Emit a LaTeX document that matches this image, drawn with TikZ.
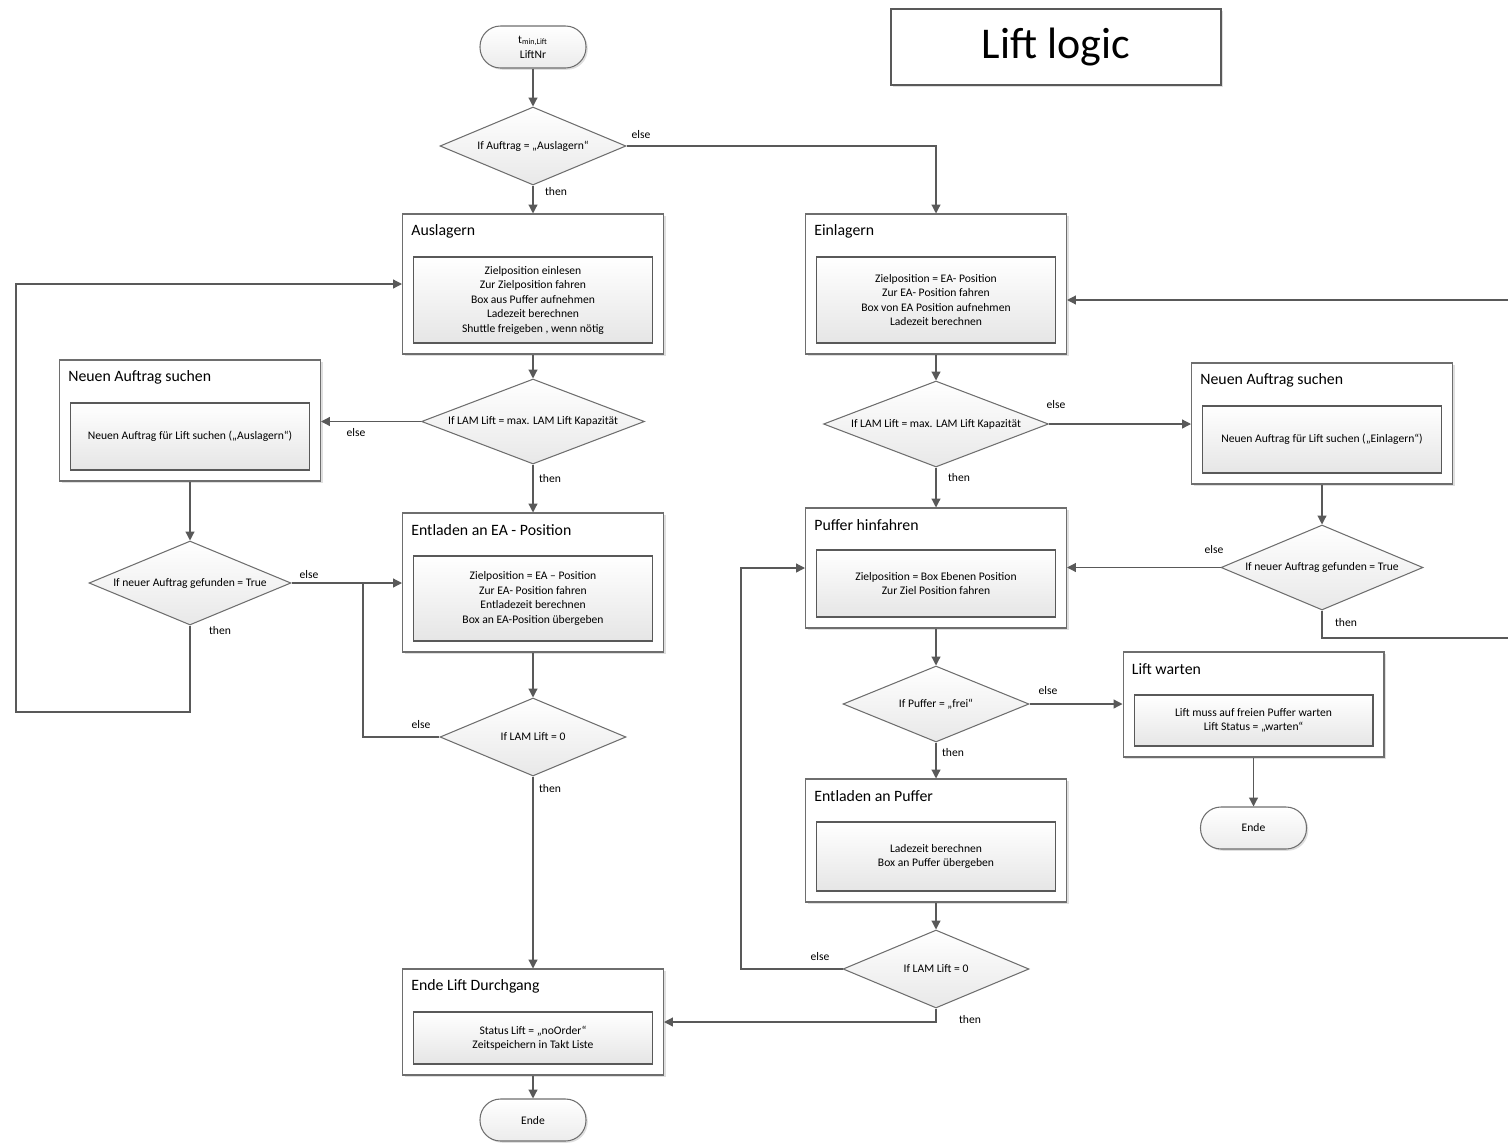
\documentclass[tikz,border=0pt]{standalone}
\usepackage{fontspec}
\setmainfont{Carlito}
\usetikzlibrary{positioning,arrows.meta,shapes.geometric,shadows,calc}

\definecolor{linegray}{RGB}{89,89,89}
\definecolor{boxgray}{RGB}{110,110,110}

\tikzset{
  outerbox/.style={rectangle,draw=boxgray,fill=white,line width=0.6pt,inner sep=0pt,
    drop shadow={shadow xshift=1.2pt,shadow yshift=-1.2pt,opacity=.25}},
  innerbox/.style={rectangle,draw=linegray,top color=white,bottom color=gray!20,
    line width=0.6pt,inner sep=0pt,align=center,minimum width=4.78cm,
    font=\fontsize{6.6}{8.25}\selectfont},
  boxtitle/.style={anchor=west,inner sep=0pt,font=\fontsize{9}{10}\selectfont},
  decision/.style={diamond,aspect=2.4,draw=boxgray,top color=white,bottom color=gray!18,
    line width=0.6pt,inner sep=0pt,font=\fontsize{6.6}{8}\selectfont},
  terminal/.style={rectangle,rounded corners=0.41cm,draw=boxgray,top color=white,
    bottom color=gray!15,line width=0.6pt,minimum width=2.12cm,minimum height=0.84cm,
    align=center,font=\fontsize{6.6}{8}\selectfont,
    drop shadow={shadow xshift=1pt,shadow yshift=-1pt,opacity=.25}},
  lbl/.style={inner sep=0pt,font=\fontsize{6.6}{8}\selectfont},
  flow/.style={draw=linegray,line width=0.7pt,-{Triangle[length=5pt,width=5pt]}},
  plain/.style={draw=linegray,line width=0.7pt}
}

\begin{document}
\begin{tikzpicture}[x=0.02cm,y=-0.02cm]
\useasboundingbox (0,0) rectangle (1508,1143);

% title
\node[draw=linegray,line width=1.3pt,fill=white,minimum width=6.6cm,minimum height=1.52cm,
  font=\fontsize{25}{28}\selectfont,
  drop shadow={shadow xshift=1.2pt,shadow yshift=-1.2pt,opacity=.25}] (title) at (1056,47) {Lift logic};

\node[terminal] (start) at (533,47) {t\textsubscript{min,Lift}\\[0.5pt]LiftNr};
\node[decision,minimum width=3.72cm,minimum height=1.56cm] (d1) at (533,146) {If Auftrag = „Auslagern“};

%%% Auslagern (left column)
\node[outerbox,minimum width=5.22cm,minimum height=2.8cm] (aus) at (533,284) {};
\node[boxtitle] (ausT) at ([xshift=0.18cm,yshift=-0.35cm]aus.north west) {Auslagern};
\node[innerbox,minimum height=1.72cm] (ausI) at (533,300)
  {Zielposition einlesen\\Zur Zielposition fahren\\Box aus Puffer aufnehmen\\Ladezeit berechnen\\Shuttle freigeben , wenn nötig};

\node[decision,minimum width=4.46cm,minimum height=1.7cm] (d2) at (533,421.5) {If LAM Lift = max. LAM Lift Kapazität};

\node[outerbox,minimum width=5.22cm,minimum height=2.42cm] (neuL) at (190,420.5) {};
\node[boxtitle] (neuLT) at ([xshift=0.18cm,yshift=-0.35cm]neuL.north west) {Neuen Auftrag suchen};
\node[innerbox,minimum height=1.34cm] (neuLI) at (190,436.5) {Neuen Auftrag für Lift suchen („Auslagern“)};

\node[decision,minimum width=4.04cm,minimum height=1.68cm] (d3) at (190,583) {If neuer Auftrag gefunden = True};

\node[outerbox,minimum width=5.22cm,minimum height=2.78cm] (entEA) at (533,582.5) {};
\node[boxtitle] (entEAT) at ([xshift=0.18cm,yshift=-0.35cm]entEA.north west) {Entladen an EA - Position};
\node[innerbox,minimum height=1.7cm] (entEAI) at (533,598.5)
  {Zielposition = EA – Position\\Zur EA- Position fahren\\Entladezeit berechnen\\Box an EA-Position übergeben};

\node[decision,minimum width=3.72cm,minimum height=1.56cm] (d4) at (533,737) {If LAM Lift = 0};

\node[outerbox,minimum width=5.22cm,minimum height=2.12cm] (endL) at (533,1022) {};
\node[boxtitle] (endLT) at ([xshift=0.18cm,yshift=-0.35cm]endL.north west) {Ende Lift Durchgang};
\node[innerbox,minimum height=1.04cm] (endLI) at (533,1038) {Status Lift = „noOrder“\\Zeitspeichern in Takt Liste};

\node[terminal] (ende1) at (533,1120) {Ende};

%%% Einlagern (right column)
\node[outerbox,minimum width=5.22cm,minimum height=2.8cm] (einl) at (936,284) {};
\node[boxtitle] (einlT) at ([xshift=0.18cm,yshift=-0.35cm]einl.north west) {Einlagern};
\node[innerbox,minimum height=1.72cm] (einlI) at (936,300)
  {Zielposition = EA- Position\\Zur EA- Position fahren\\Box von EA Position aufnehmen\\Ladezeit berechnen};

\node[decision,minimum width=4.5cm,minimum height=1.72cm] (d5) at (936,424) {If LAM Lift = max. LAM Lift Kapazität};

\node[outerbox,minimum width=5.22cm,minimum height=2.42cm] (neuR) at (1322,423.5) {};
\node[boxtitle] (neuRT) at ([xshift=0.18cm,yshift=-0.35cm]neuR.north west) {Neuen Auftrag suchen};
\node[innerbox,minimum height=1.34cm] (neuRI) at (1322,439.5) {Neuen Auftrag für Lift suchen („Einlagern“)};

\node[decision,minimum width=4.04cm,minimum height=1.7cm] (d6) at (1322,567.5) {If neuer Auftrag gefunden = True};

\node[outerbox,minimum width=5.22cm,minimum height=2.4cm] (puf) at (936,568) {};
\node[boxtitle] (pufT) at ([xshift=0.18cm,yshift=-0.35cm]puf.north west) {Puffer hinfahren};
\node[innerbox,minimum height=1.34cm] (pufI) at (936,583.5) {Zielposition = Box Ebenen Position\\Zur Ziel Position fahren};

\node[decision,minimum width=3.72cm,minimum height=1.52cm] (d7) at (936,704) {If Puffer = „frei“};

\node[outerbox,minimum width=5.22cm,minimum height=2.1cm] (wait) at (1253.5,704.5) {};
\node[boxtitle] (waitT) at ([xshift=0.18cm,yshift=-0.35cm]wait.north west) {Lift warten};
\node[innerbox,minimum height=1.02cm] (waitI) at (1253.5,720.5) {Lift muss auf freien Puffer warten\\Lift Status = „warten“};

\node[terminal] (ende2) at (1253.5,828) {Ende};

\node[outerbox,minimum width=5.22cm,minimum height=2.46cm] (entP) at (936,840.5) {};
\node[boxtitle] (entPT) at ([xshift=0.18cm,yshift=-0.35cm]entP.north west) {Entladen an Puffer};
\node[innerbox,minimum height=1.38cm] (entPI) at (936,856.5) {Ladezeit berechnen\\Box an Puffer übergeben};

\node[decision,minimum width=3.72cm,minimum height=1.56cm] (d8) at (936,969) {If LAM Lift = 0};

% bend points
\coordinate (loopL) at (16,712);
\coordinate (joinL) at (363,583);
\coordinate (loopM) at (741,969);
\coordinate (loopR) at (1512,638);

% connectors
\draw[flow] (start) -- (d1);
\draw[flow] (d1.south) -- (aus.north);
\draw[flow] (d1.east) -| (einl.north);
\draw[flow] (aus.south) -- (d2.north);
\draw[flow] (d2.west) -- (d2.west -| neuL.east);
\draw[flow] (d2.south) -- (entEA.north);
\draw[flow] (neuL.south) -- (d3.north);
\draw[flow] (d3.east) -- (d3.east -| entEA.west);
\draw[flow] (d3.south) |- (loopL) |- (aus.west);
\draw[flow] (entEA.south) -- (d4.north);
\draw[plain] (d4.west) -| (joinL);
\draw[flow] (d4.south) -- (endL.north);
\draw[flow] (endL.south) -- (ende1.north);

\draw[flow] (einl.south) -- (d5.north);
\draw[flow] (d5.east) -- (d5.east -| neuR.west);
\draw[flow] (d5.south) -- (puf.north);
\draw[flow] (neuR.south) -- (d6.north);
\draw[flow] (d6.west) -- (d6.west -| puf.east);
\draw[flow] (d6.south) |- (loopR) |- (einl.east |- einlI.center);
\draw[flow] (puf.south) -- (d7.north);
\draw[flow] (d7.east) -- (d7.east -| wait.west);
\draw[flow] (d7.south) -- (entP.north);
\draw[flow] (wait.south) -- (ende2.north);
\draw[flow] (entP.south) -- (d8.north);
\draw[flow] (d8.west) -- (loopM) |- (puf.west);
\draw[flow] (d8.south) |- (endL.east);

% branch labels
\node[lbl] (l1e) at (641,135) {else};
\node[lbl] (l1t) at (556,192) {then};
\node[lbl] (l2e) at (356,433) {else};
\node[lbl] (l2t) at (550,479) {then};
\node[lbl] (l3e) at (309,575) {else};
\node[lbl] (l3t) at (220,631) {then};
\node[lbl] (l4e) at (421,725) {else};
\node[lbl] (l4t) at (550,789) {then};
\node[lbl] (l5e) at (1056,405) {else};
\node[lbl] (l5t) at (959,478) {then};
\node[lbl] (l6e) at (1214,550) {else};
\node[lbl] (l6t) at (1346,623) {then};
\node[lbl] (l7e) at (1048,691) {else};
\node[lbl] (l7t) at (953,753) {then};
\node[lbl] (l8e) at (820,957) {else};
\node[lbl] (l8t) at (970,1020) {then};

\end{tikzpicture}
\end{document}
